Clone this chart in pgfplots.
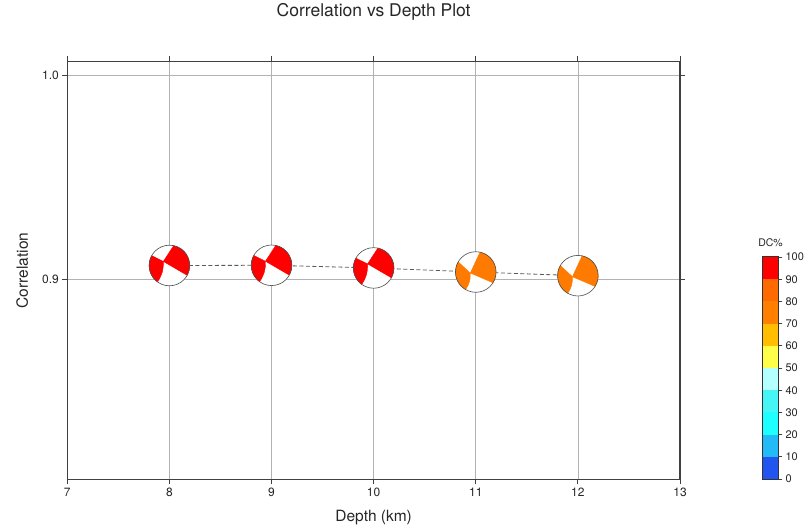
\documentclass[border=0pt]{standalone}
\usepackage{pgfplots}
\pgfplotsset{compat=1.18}
\usepackage{fontspec}
\setmainfont{TeX Gyre Heros}
\definecolor{bbred}{RGB}{255,0,0}
\definecolor{bborange}{RGB}{255,122,0}
\definecolor{cb0}{RGB}{34,85,240}
\definecolor{cb1}{RGB}{34,187,248}
\definecolor{cb2}{RGB}{30,255,255}
\definecolor{cb3}{RGB}{70,245,245}
\definecolor{cb4}{RGB}{180,255,255}
\definecolor{cb5}{RGB}{255,255,74}
\definecolor{cb6}{RGB}{255,190,0}
\definecolor{cb7}{RGB}{255,128,0}
\definecolor{cb8}{RGB}{255,106,0}
\definecolor{cb9}{RGB}{255,0,0}
% beachball: #1 colour, (#2,#3) crossing point (unit radius), #4..#7 nodal angles
\newcommand{\beachball}[7]{%
  \pgfmathsetmacro{\bbpx}{#2*\pgfplotmarksize}%
  \pgfmathsetmacro{\bbpy}{#3*\pgfplotmarksize}%
  \fill[white] (0pt,0pt) circle[radius=\pgfplotmarksize];
  \coordinate (bbP) at (\bbpx pt,\bbpy pt);
  \coordinate (bbA) at (#7:\pgfplotmarksize);
  \fill[#1] (bbP) -- (#4:\pgfplotmarksize)
     arc[start angle=#4, end angle=#7, radius=\pgfplotmarksize]
     to[bend right=18] (bbP) -- cycle;
  \fill[#1] (bbP) -- (#6:\pgfplotmarksize)
     arc[start angle=#6, end angle=#5, radius=\pgfplotmarksize] -- cycle;
  \draw[line width=0.6pt, black!70] (0pt,0pt) circle[radius=\pgfplotmarksize];
}
\pgfdeclareplotmark{bbr}{\beachball{bbred}{-0.3}{0.2}{151}{78}{-29}{234}}
\pgfdeclareplotmark{bbo}{\beachball{bborange}{-0.27}{-0.05}{150}{78}{-32}{240}}
\begin{document}
\begin{tikzpicture}
\path[use as bounding box] (0,0) rectangle (808pt,529pt);
\begin{axis}[
  at={(67.3pt,49.5pt)}, anchor=south west,
  scale only axis, width=612.7pt, height=418pt,
  xmin=7, xmax=13, ymin=0.8017, ymax=1.0066,
  xtick={7,8,9,10,11,12,13}, ytick={0.9,1.0},
  /pgf/number format/assume math mode=true,
  yticklabel style={/pgf/number format/fixed, /pgf/number format/fixed zerofill, /pgf/number format/precision=1},
  grid=major, major grid style={black!30, line width=0.6pt},
  tick align=outside, major tick length=5pt,
  axis line style={black!75, line width=1.3pt},
  tick style={black!75, line width=0.8pt},
  ticklabel style={font=\fontsize{12}{14}\selectfont, text=black!85},
  title={Correlation vs Depth Plot},
  title style={at={(axis description cs:0.5,1)}, anchor=center, yshift=43.5pt, font=\fontsize{17.5}{20}\selectfont, text=black!85},
  xlabel={Depth (km)},
  xlabel style={at={(axis description cs:0.5,0)}, anchor=center, yshift=-38.5pt, font=\fontsize{15.5}{18}\selectfont, text=black!85},
  ylabel={Correlation},
  every axis y label/.style={at={(axis description cs:-0.0734,0.5)}, rotate=90, anchor=center, font=\fontsize{15.5}{18}\selectfont, text=black!85},
  clip=false,
]
\addplot[black!65, line width=0.8pt, dash pattern=on 4pt off 2.5pt] coordinates {
  (8,0.9066) (9,0.9067) (10,0.9054) (11,0.9034) (12,0.9016)};
\addplot[only marks, mark=bbr, mark size=20.3pt] coordinates {
  (8,0.9066) (9,0.9067) (10,0.9054)};
\addplot[only marks, mark=bbo, mark size=20.3pt] coordinates {
  (11,0.9034) (12,0.9016)};
\end{axis}
\begin{axis}[
  at={(763pt,50pt)}, anchor=south west,
  scale only axis, width=15pt, height=222pt,
  xmin=0, xmax=1, ymin=0, ymax=100,
  xtick=\empty, ytick={0,10,...,100},
  ytick pos=right, yticklabel pos=right,
  tick align=outside, major tick length=4pt,
  axis line style={black!80, line width=1.2pt},
  tick style={black!75, line width=0.7pt},
  ticklabel style={font=\fontsize{11}{13}\selectfont, text=black!85},
  /pgf/number format/assume math mode=true,
  ybar stacked, bar width=15pt,
  title={DC\%},
  title style={at={(axis description cs:0.5,1)}, anchor=center, yshift=8.5pt, font=\fontsize{10.5}{12}\selectfont, text=black!85},
]
\addplot[fill=cb0, draw=none] coordinates {(0.5,10)};
\addplot[fill=cb1, draw=none] coordinates {(0.5,10)};
\addplot[fill=cb2, draw=none] coordinates {(0.5,10)};
\addplot[fill=cb3, draw=none] coordinates {(0.5,10)};
\addplot[fill=cb4, draw=none] coordinates {(0.5,10)};
\addplot[fill=cb5, draw=none] coordinates {(0.5,10)};
\addplot[fill=cb6, draw=none] coordinates {(0.5,10)};
\addplot[fill=cb7, draw=none] coordinates {(0.5,10)};
\addplot[fill=cb8, draw=none] coordinates {(0.5,10)};
\addplot[fill=cb9, draw=none] coordinates {(0.5,10)};
\end{axis}
\end{tikzpicture}
\end{document}
